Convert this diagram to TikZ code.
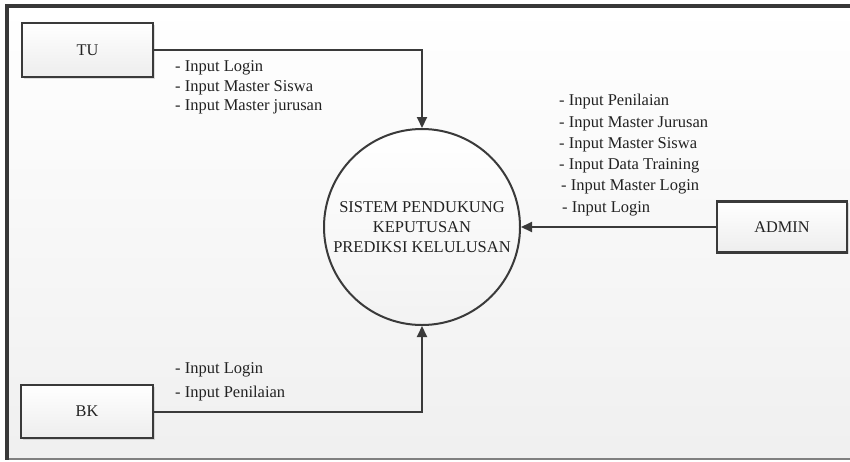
\documentclass[tikz,border=0pt]{standalone}
\usepackage{fontspec}
\setmainfont{Liberation Serif}
\usetikzlibrary{arrows.meta,shadows}
\definecolor{inkline}{HTML}{3A3A3A}
\definecolor{inktext}{HTML}{222222}
\tikzset{
  entity/.style={draw=inkline, line width=2.2pt, top color=white, bottom color=black!7,
    drop shadow={shadow xshift=1.5pt, shadow yshift=-1.5pt, opacity=0.25},
    text=inktext, font=\fontsize{16.3}{19}\selectfont, inner sep=0pt},
  process/.style={circle, draw=inkline, line width=2pt, top color=white, bottom color=black!5,
    minimum size=196, inner sep=0pt, align=center, text=inktext,
    font=\fontsize{16.5}{20}\selectfont},
  flow/.style={draw=inkline, line width=2pt, -{Triangle[length=11pt,width=10pt]}},
  flowlabel/.style={anchor=west, inner sep=0pt, text=inktext, font=\fontsize{16.5}{19.5}\selectfont}
}
\begin{document}
\begin{tikzpicture}[x=1pt,y=-1pt]
  \useasboundingbox (0,0) rectangle (850,461);
  % page background and frame
  \fill[white] (0,0) rectangle (850,461);
  \shade[top color=white, bottom color=black!6] (7,6) rectangle (850,459);
  \draw[black!50, line width=1.5pt] (7,459) -- (850,459);
  \draw[black!78, line width=3.5pt] (850,6) -- (7,6) -- (7,459.7);

  % process and external entities
  \node[process] (proc) at (422,227) {SISTEM PENDUKUNG\\KEPUTUSAN\\PREDIKSI KELULUSAN};
  \node[entity, minimum width=131, minimum height=54] (tu) at (87.5,50) {TU};
  \node[entity, minimum width=132, minimum height=53] (bk) at (87,411.5) {BK};
  \node[entity, minimum width=130, minimum height=51] (admin) at (782,227) {ADMIN};

  % data flows
  \draw[flow] (tu.east) -| (proc.north);
  \draw[flow] (bk.east) -| (proc.south);
  \draw[flow] (admin.west) -- (proc.east);

  % flow labels
  \node[flowlabel] (tu1) at (175,68) {- Input Login};
  \node[flowlabel] (tu2) at (175,87.5) {- Input Master Siswa};
  \node[flowlabel] (tu3) at (175,107) {- Input Master jurusan};

  \node[flowlabel] (bk1) at (175,370) {- Input Login};
  \node[flowlabel] (bk2) at (175,394) {- Input Penilaian};

  \node[flowlabel] (ad1) at (559,102) {- Input Penilaian};
  \node[flowlabel] (ad2) at (559,123.5) {- Input Master Jurusan};
  \node[flowlabel] (ad3) at (559,145) {- Input Master Siswa};
  \node[flowlabel] (ad4) at (559,166) {- Input Data Training};
  \node[flowlabel] (ad5) at (561,187) {- Input Master Login};
  \node[flowlabel] (ad6) at (562,209) {- Input Login};
\end{tikzpicture}
\end{document}
